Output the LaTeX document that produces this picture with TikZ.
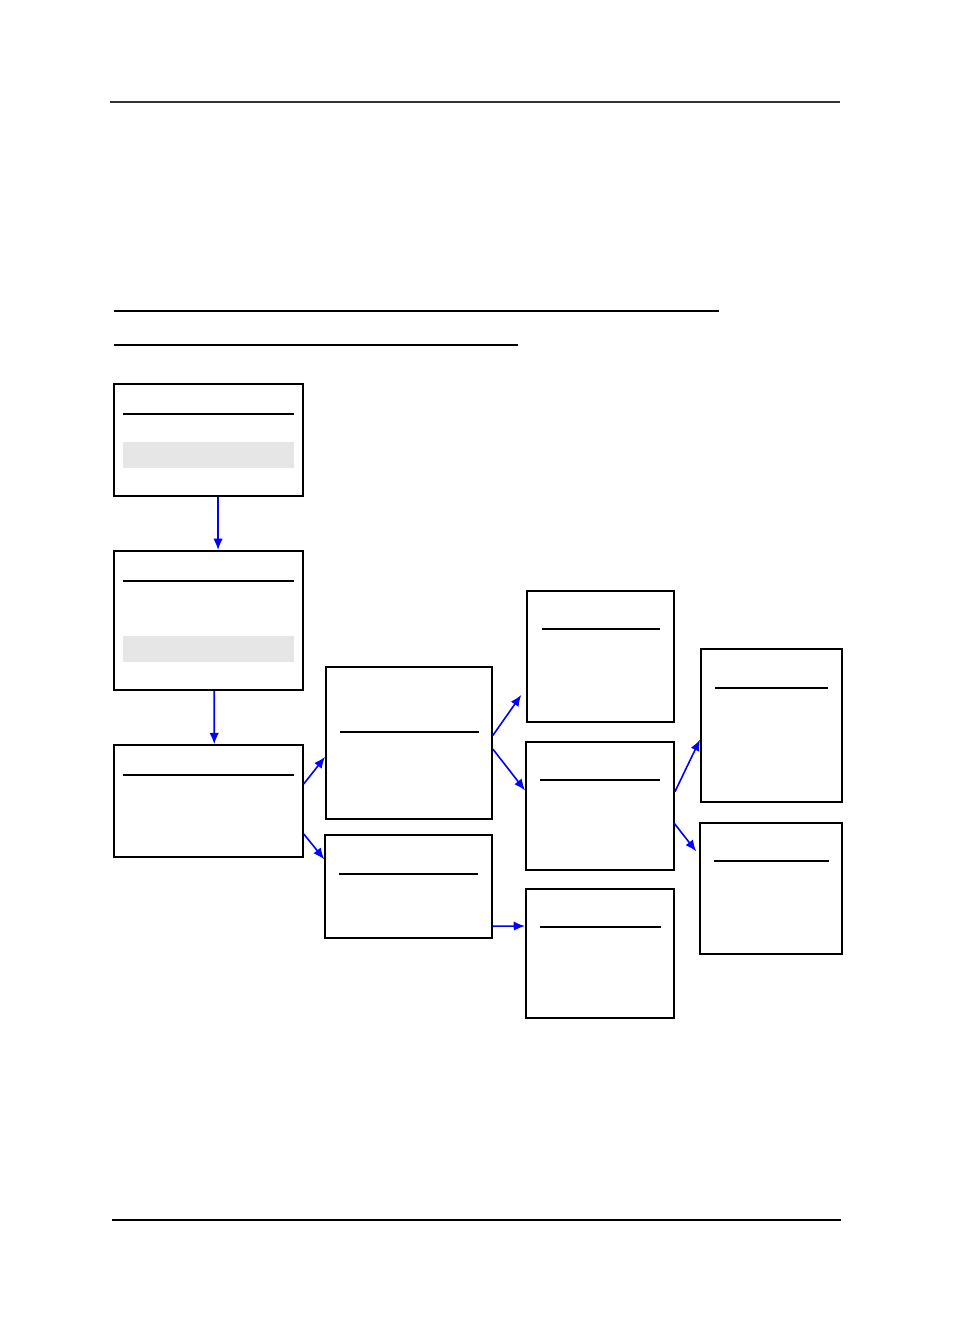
\documentclass[tikz,border=0pt]{standalone}
\usetikzlibrary{arrows.meta,fit,calc}
\definecolor{shade}{HTML}{E6E6E6}
\definecolor{arrblue}{HTML}{0000FF}
\begin{document}
\begin{tikzpicture}[x=0.75pt,y=-0.75pt,
  box/.style={draw=black,line width=1.4pt,inner sep=0pt,fill=none},
  thinbox/.style={draw=black,line width=1.1pt,inner sep=0pt},
  rule/.style={draw=black,line width=0.8pt},
  band/.style={fill=shade,draw=none,inner sep=0pt},
  conn/.style={draw=arrblue,line width=1.2pt,-{Latex[length=8.5pt,width=7pt]}}]
\useasboundingbox (0,0) rectangle (954,1336);
% page rules
\draw[line width=1.1pt,black!80] (110,102) -- (840,102);
\draw[line width=1.3pt] (114,311) -- (719,311);
\draw[line width=1.3pt] (114,345) -- (518,345);
\draw[line width=1.8pt] (112,1220) -- (841,1220);
% boxes
\node[box,fit={(114,384)(303,496)}] (A) {};
\node[box,fit={(114,551)(303,690)}] (B) {};
\node[thinbox,fit={(114,745)(303,857)}] (C) {};
\node[box,fit={(326,667)(492,819)}] (D) {};
\node[thinbox,fit={(325,835)(492,938)}] (E) {};
\node[thinbox,fit={(527,591)(674,722)}] (F) {};
\node[box,fit={(526,742)(674,870)}] (G) {};
\node[box,fit={(526,889)(674,1018)}] (H) {};
\node[box,fit={(701,649)(842,802)}] (I) {};
\node[thinbox,fit={(700,823)(842,954)}] (J) {};
% gray bands
\node[band,fit={(123,442)(294,468)}] (Ab) {};
\node[band,fit={(123,636)(294,662)}] (Bb) {};
% inner rules
\draw[rule] (123,414) -- (294,414);
\draw[rule] (123,581) -- (294,581);
\draw[rule] (123,775) -- (294,775);
\draw[rule] (340,732) -- (479,732);
\draw[line width=1.3pt] (339,874) -- (478,874);
\draw[rule] (542,629) -- (660,629);
\draw[rule] (540,780) -- (660,780);
\draw[rule] (540,927) -- (661,927);
\draw[rule] (715,688) -- (828,688);
\draw[rule] (714,861) -- (829,861);
% connectors
\draw[conn] ($(A.south west)!0.55!(A.south east)$) -- ($(B.north west)!0.55!(B.north east)$);
\draw[conn] ($(B.south west)!0.53!(B.south east)$) -- ($(C.north west)!0.53!(C.north east)$);
\draw[conn] ($(C.north east)!0.35!(C.south east)$) -- ($(D.north west)!0.59!(D.south west)$);
\draw[conn] ($(C.north east)!0.79!(C.south east)$) -- ($(E.north west)!0.24!(E.south west)$);
\draw[conn] ($(D.north east)!0.45!(D.south east)$) -- ($(F.north west)!0.79!(F.south west)+(-5,0)$);
\draw[conn] ($(D.north east)!0.54!(D.south east)$) -- ($(G.north west)!0.38!(G.south west)$);
\draw[conn] ($(E.north east)!0.88!(E.south east)$) -- ($(H.north west)!0.29!(H.south west)$);
\draw[conn] ($(G.north east)!0.39!(G.south east)$) -- ($(I.north west)!0.59!(I.south west)$);
\draw[conn] ($(G.north east)!0.63!(G.south east)+(-1,0)$) -- ($(J.north west)!0.22!(J.south west)+(-3,0)$);
\end{tikzpicture}
\end{document}
